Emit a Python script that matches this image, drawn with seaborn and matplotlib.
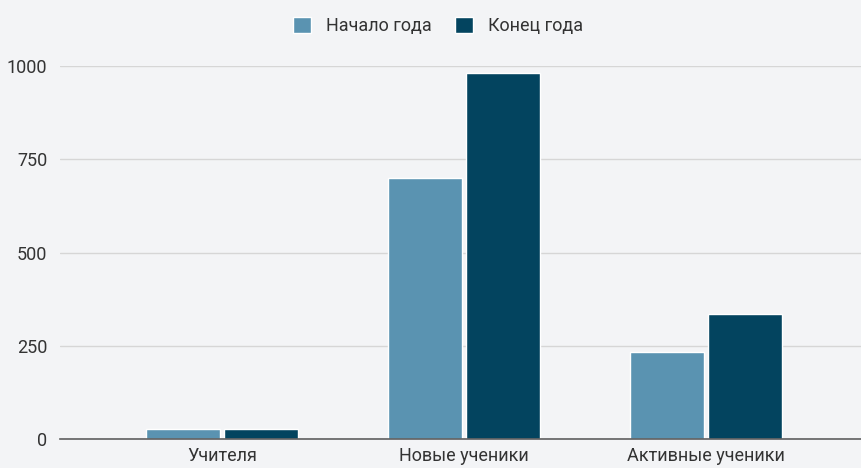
import pandas as pd
import matplotlib.pyplot as plt
import seaborn as sns

# Данные
categories = ['Учителя', 'Новые ученики', 'Активные ученики']
start_year = [28, 700, 233]
end_year = [28, 980, 335]
series = ['Начало года', 'Конец года']
colors = ['#5a93b1', '#03445f']

df = pd.DataFrame({
    'category': categories * 2,
    'value': start_year + end_year,
    'period': [series[0]] * 3 + [series[1]] * 3,
})

sns.set_style('white')
plt.rcParams['font.family'] = ['Roboto', 'DejaVu Sans']
bg = '#f3f4f6'

fig = plt.figure(figsize=(8.61, 4.68), dpi=100, facecolor=bg)
ax = fig.add_axes([60 / 861, 1 - 439 / 468, 1 - 60 / 861, (439 - 66) / 468])
ax.set_facecolor(bg)

sns.barplot(
    data=df, x='category', y='value', hue='period',
    palette=colors, width=0.645, gap=0.05, ax=ax,
    saturation=1, legend=True
)

ax.set_ylim(0, 1000)
ax.set_xlim(-0.67, 2.64)
ax.set_yticks([0, 250, 500, 750, 1000])
ax.yaxis.grid(True, color='#d6d6d6', linewidth=1)
ax.set_axisbelow(True)
for s in ['top', 'right', 'left']:
    ax.spines[s].set_visible(False)
ax.spines['bottom'].set_color('#5f5f5f')
ax.spines['bottom'].set_linewidth(1.2)
ax.tick_params(axis='both', length=0, labelsize=13, colors='#333333')
ax.tick_params(axis='y', pad=9)
ax.tick_params(axis='x', pad=6)
ax.set_xlabel('')
ax.set_ylabel('')

handles, labels = ax.get_legend_handles_labels()
ax.get_legend().remove()
fig.legend(handles, labels, loc='center', bbox_to_anchor=(438 / 861, 1 - 26 / 468),
           ncol=2, frameon=False, fontsize=13, handlelength=1.0, handleheight=1.0,
           columnspacing=1.3, handletextpad=0.8, labelcolor='#333333')

fig.savefig('out.png', dpi=100, facecolor=bg)
